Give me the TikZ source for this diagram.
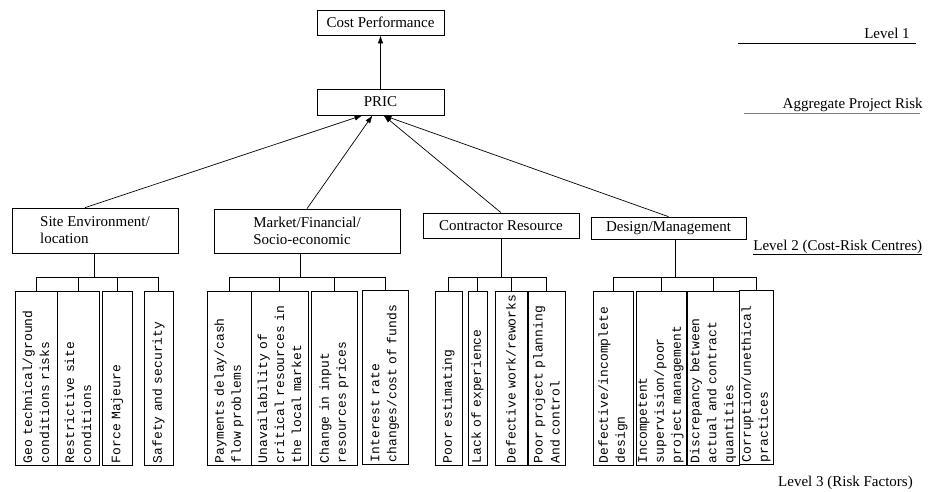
\documentclass[tikz,border=0pt]{standalone}
\usepackage{fontspec}
\setmainfont{Liberation Serif}
\newfontfamily\factorfont{Liberation Mono}
\usetikzlibrary{arrows.meta,calc}
\tikzset{>={Latex[length=8pt,width=5.5pt]}}
\tikzset{
  topbox/.style={draw, font=\fontsize{15}{17}\selectfont, minimum width=127pt, minimum height=25pt, inner sep=1pt},
  centrebox/.style={draw, font=\fontsize{15}{17}\selectfont, align=left, inner sep=1pt},
  factorbox/.style={draw, rotate=90, font=\factorfont\fontsize{13}{17}\selectfont, align=left,
    text width=170pt, inner xsep=2pt, inner ysep=0pt, minimum width=174pt},
  levellabel/.style={font=\fontsize{15}{17}\selectfont, inner sep=0pt}
}

\begin{document}
\begin{tikzpicture}[x=1pt,y=-1pt,line width=0.7pt]
  \useasboundingbox (0,0) rectangle (936,491);
  \node[topbox] (cost) at (380.5,22.5) {Cost Performance};
  \node[topbox, minimum height=26pt] (pric) at (380.5,102) {PRIC};
  \draw[->] (pric) -- (cost);

  \node[centrebox, minimum width=166pt, minimum height=45pt] (site) at (95,230.5) {Site Environment/\\location};
  \node[centrebox, minimum width=186pt, minimum height=44pt] (market) at (307,231) {Market/Financial/\\Socio-economic};
  \node[centrebox, minimum width=156pt, minimum height=25pt] (contractor) at (501,225.5) {Contractor Resource};
  \node[centrebox, minimum width=155pt, minimum height=22pt] (design) at (668.5,228) {Design/Management};
  \draw[->] ([xshift=-10pt]site.north) -- ([xshift=-18pt]pric.south);
  \draw[->] (market.north) -- ([xshift=-8pt]pric.south);
  \draw[->] (contractor.north) -- ([xshift=3pt]pric.south);
  \draw[->] (design.north) -- ([xshift=3pt]pric.south);

  \node[factorbox, minimum height=42pt] (s1) at (36,378) {Geo technical/ground\\conditions risks};
  \node[factorbox, minimum height=42pt] (s2) at (78,378) {Restrictive site\\conditions};
  \node[factorbox, minimum height=30pt] (s3) at (117,378) {Force Majeure};
  \node[factorbox, minimum height=29pt] (s4) at (158.5,378) {Safety and security};

  \node[factorbox, minimum height=44pt] (m1) at (229,378) {Payments delay/cash\\flow problems};
  \node[factorbox, minimum height=57pt] (m2) at (279.5,378) {Unavailability of\\critical resources in\\the local market};
  \node[factorbox, minimum height=46pt] (m3) at (334,378) {Change in input\\resources prices};
  \node[factorbox, minimum height=46pt] (m4) at (385,377) {Interest rate\\changes/cost of funds};

  \node[factorbox, minimum height=27pt] (c1) at (448.5,378) {Poor estimating};
  \node[factorbox, minimum height=19pt] (c2) at (477.5,378) {Lack of experience};
  \node[factorbox, minimum height=32pt] (c3) at (511,378) {Defective work/reworks};
  \node[factorbox, minimum height=37pt] (c4) at (546.5,378) {Poor project planning\\And control};

  \node[factorbox, minimum height=40pt] (d1) at (613,378) {Defective/incomplete\\design};
  \node[factorbox, minimum height=50pt] (d2) at (661,378) {Incompetent\\supervision/poor\\project management};
  \node[factorbox, minimum height=52pt] (d3) at (713,378) {Discrepancy between\\actual and contract\\quantities};
  \node[factorbox, minimum height=34pt] (d4) at (756,377) {Corruption/unethical\\practices};

  \coordinate (bus) at (0,277);
  \foreach \p/\o/\a/\b/\c/\d in {site/-1/s1/s2/s3/s4, market/-7/m1/m2/m3/m4,
      contractor/0/c1/c2/c3/c4, design/7/d1/d2/d3/d4}{
    \draw ([xshift=\o pt]\p.south) -- ([xshift=\o pt]\p.south |- bus);
    \draw (\a.east) |- (\d.east |- bus) -- (\d.east);
    \draw (\b.east) -- (\b.east |- bus);
    \draw (\c.east) -- (\c.east |- bus);
  }

  \node[levellabel, anchor=base east] (lvlone) at (910,38) {Level 1};
  \draw (738,43) -- (916,43);
  \node[levellabel, anchor=base east] (lvlagg) at (923,108) {Aggregate Project Risk};
  \draw[gray] (744,113) -- (920,113);
  \node[levellabel, anchor=base west] (lvltwo) at (753,250) {Level 2 (Cost-Risk Centres)};
  \draw ([yshift=-4pt]lvltwo.base west) -- ([yshift=-4pt]lvltwo.base east);
  \node[levellabel] (lvlthree) at (845.5,483) {Level 3 (Risk Factors)};
\end{tikzpicture}
\end{document}
